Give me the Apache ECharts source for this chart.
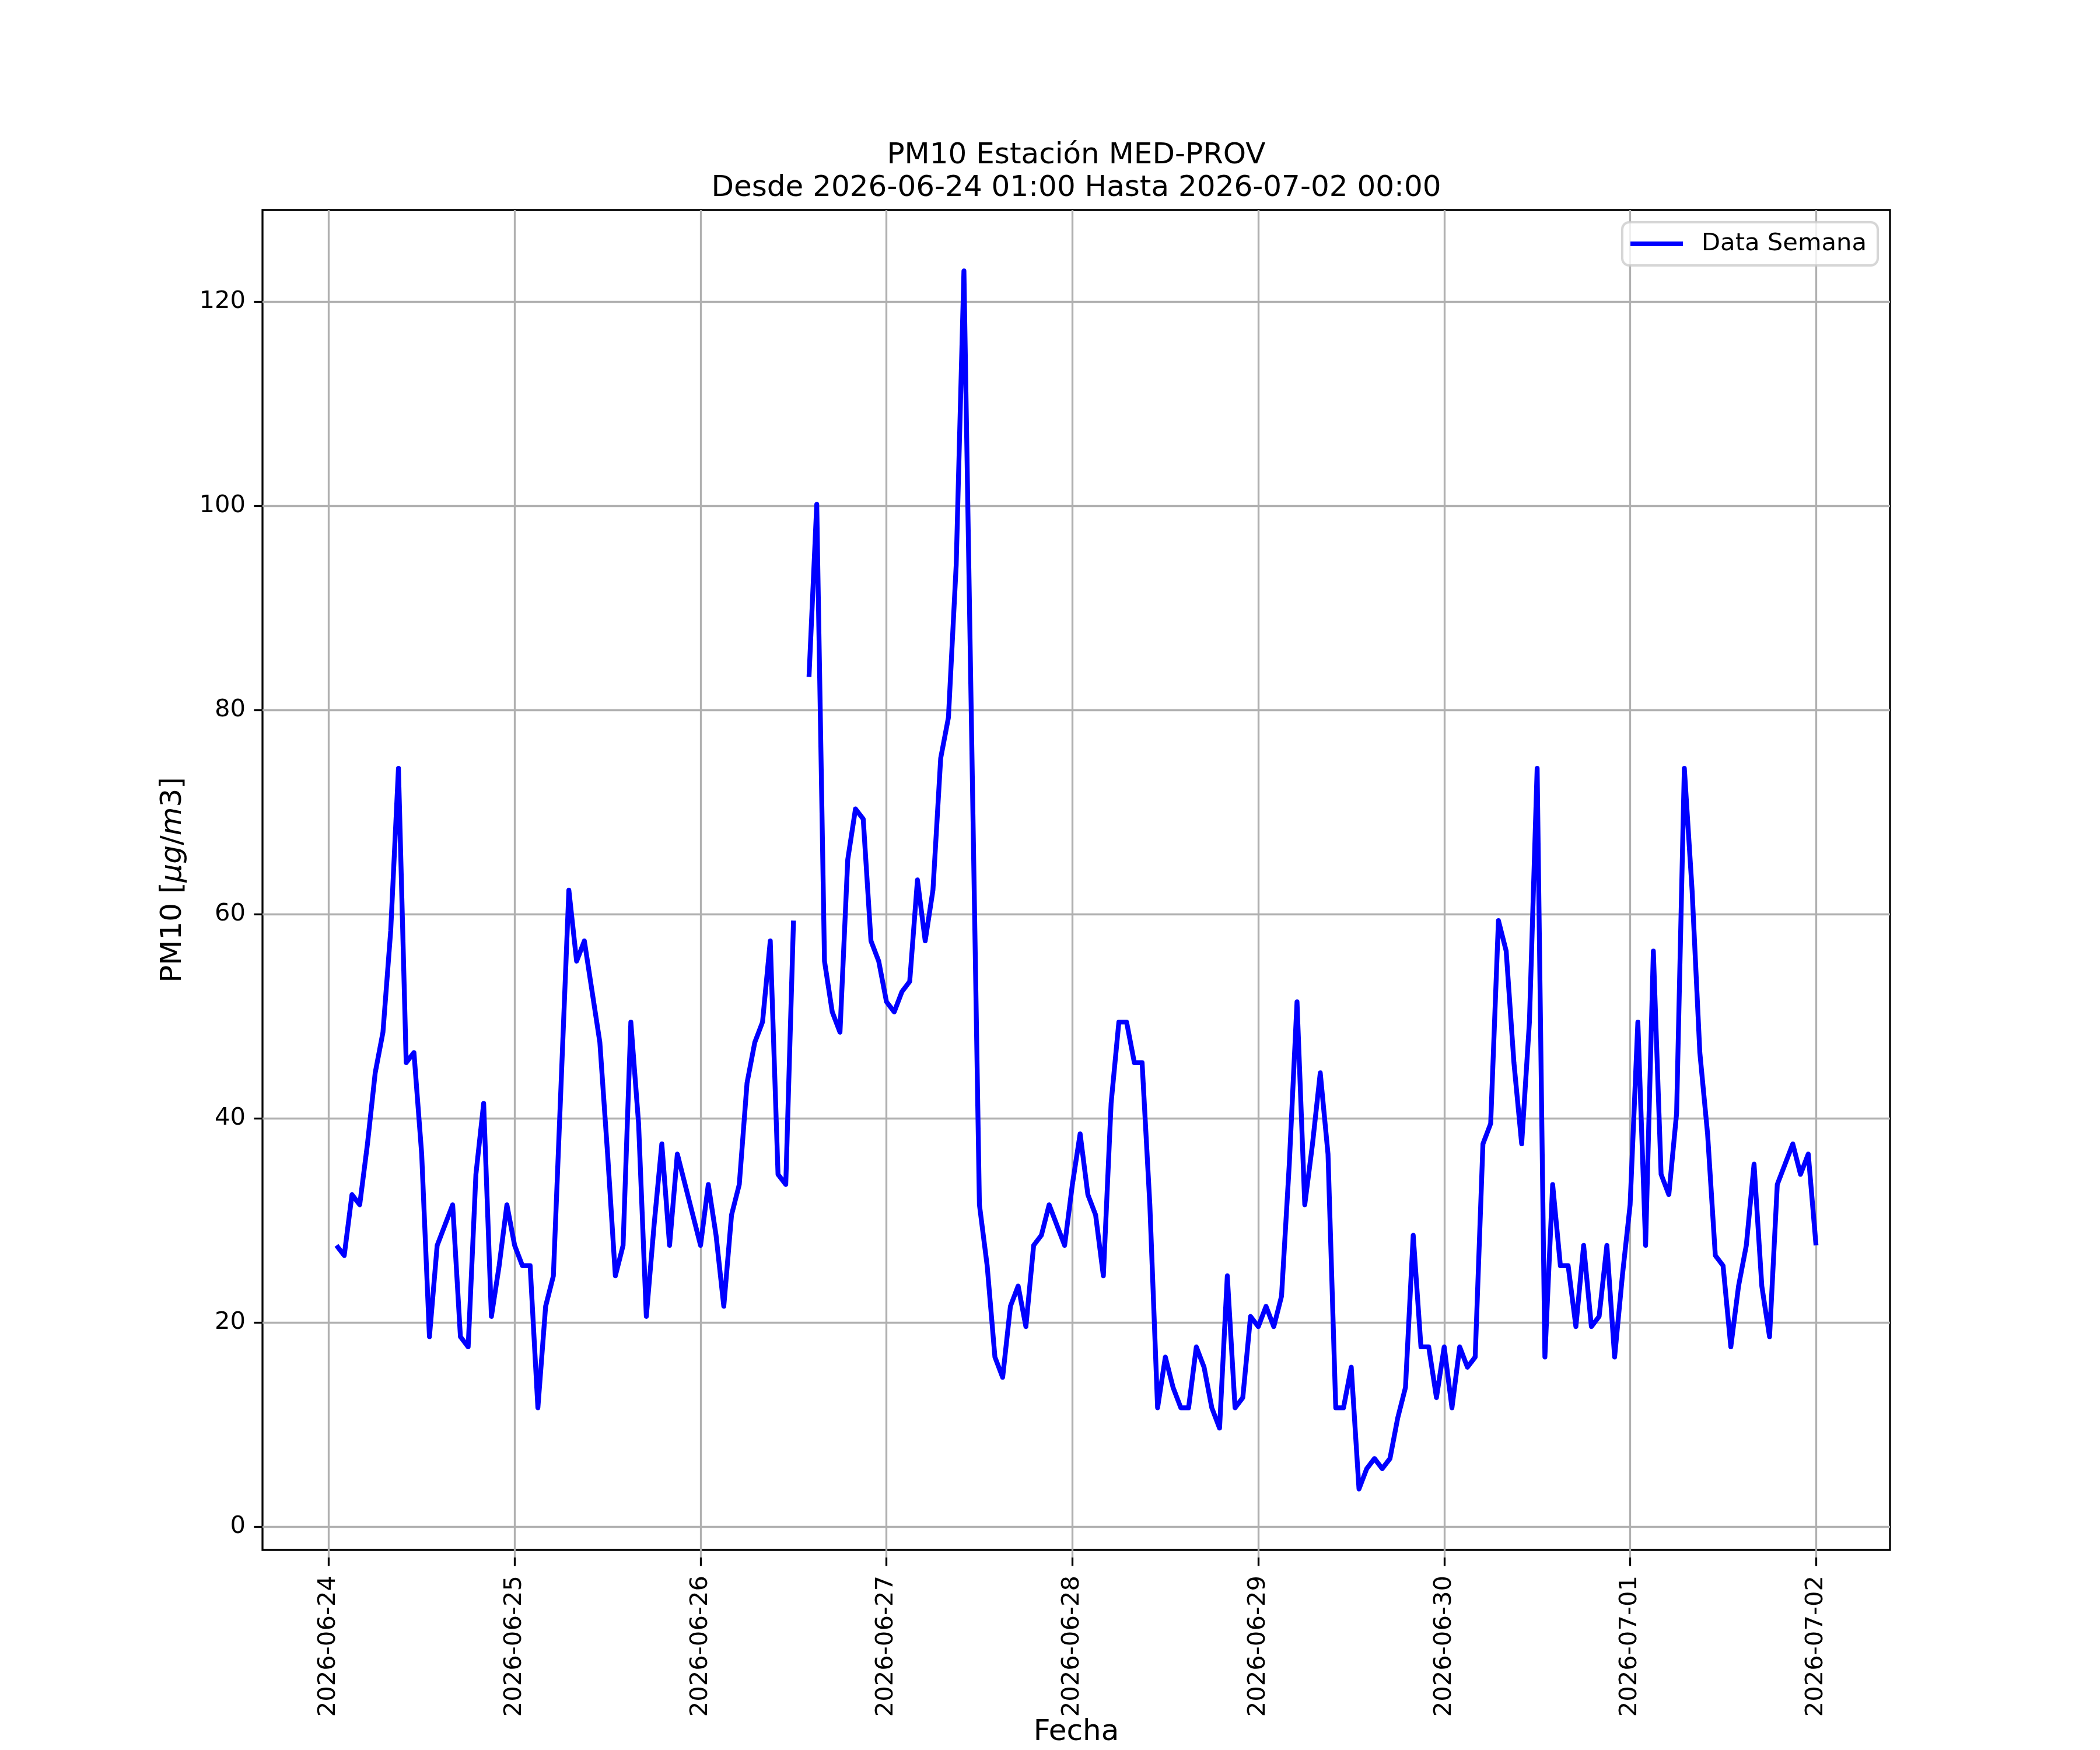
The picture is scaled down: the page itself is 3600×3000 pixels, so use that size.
<!DOCTYPE html>
<html>
<head>
<meta charset="utf-8">
<title>PM10 Estación MED-PROV</title>
<script src="https://cdn.jsdelivr.net/npm/echarts@6/dist/echarts.min.js"></script>
<style>
  html, body { margin: 0; padding: 0; background: #fff; }
  #main { width: 3600px; height: 3000px; }
</style>
</head>
<body>
<div id="main"></div>
<script>
// PM10 horario, desde 2026-06-24 01:00 (una hora por valor)
var pm10 = [
  27, 26, 32, 31, 37, 44, 48, 58, 74, 45, 46, 36, 18, 27, 29, 31, 18, 17, 34, 41, 20, 25, 31, 27,
  25, 25, 11, 21, 24, 43, 62, 55, 57, 52, 47, 36, 24, 27, 49, 39, 20, 29, 37, 27, 36, 33, 30, 27,
  33, 28, 21, 30, 33, 43, 47, 49, 57, 34, 33, 59, null, 83, 100, 55, 50, 48, 65, 70, 69, 57, 55, 51,
  50, 52, 53, 63, 57, 62, 75, 79, 94, 123, 77, 31, 25, 16, 14, 21, 23, 19, 27, 28, 31, 29, 27, 33,
  38, 32, 30, 24, 41, 49, 49, 45, 45, 31, 11, 16, 13, 11, 11, 17, 15, 11, 9, 24, 11, 12, 20, 19,
  21, 19, 22, 35, 51, 31, 37, 44, 36, 11, 11, 15, 3, 5, 6, 5, 6, 10, 13, 28, 17, 17, 12, 17,
  11, 17, 15, 16, 37, 39, 59, 56, 45, 37, 49, 74, 16, 33, 25, 25, 19, 27, 19, 20, 27, 16, 24, 31,
  49, 27, 56, 34, 32, 40, 74, 62, 46, 38, 26, 25, 17, 23, 27, 35, 23, 18, 33, 35, 37, 34, 36, 27
];
var dayLabels = ['2026-06-24', '2026-06-25', '2026-06-26', '2026-06-27', '2026-06-28',
                 '2026-06-29', '2026-06-30', '2026-07-01', '2026-07-02'];
var yTicks = [0, 20, 40, 60, 80, 100, 120];

var HOUR = 3600000;
var startTs = Date.UTC(2026, 5, 24, 1);
var endTs = startTs + (pm10.length - 1) * HOUR;
var margin = (endTs - startTs) * 0.05;   // margen automatico de matplotlib

var seriesData = pm10.map(function (v, i) { return [startTs + i * HOUR, v]; });

// geometria de la figura (3600x3000)
var W = 3600, H = 3000;
var axL = 450, axR = 3240, axT = 360, axB = 2670;
var yMin = -3, yMax = 129;
var pxPerY = (axB - axT) / (yMax - yMin);
var pxPerMs = (axR - axL) / ((endTs + margin) - (startTs - margin));
var day0 = Date.UTC(2026, 5, 24), day8 = Date.UTC(2026, 6, 2);
var dayLeft = axL + (day0 - (startTs - margin)) * pxPerMs;
var dayRight = axL + (day8 - (startTs - margin)) * pxPerMs;

var font = 'DejaVu Sans';
var fs = 41.7;
var gridCol = '#b0b0b0';

var chart = echarts.init(document.getElementById('main'), null, { renderer: 'canvas' });

var option = {
  backgroundColor: '#ffffff',
  animation: false,
  title: {
    text: 'PM10 Estación MED-PROV\nDesde 2026-06-24 01:00 Hasta 2026-07-02 00:00',
    left: (axL + axR) / 2,
    top: 239,
    padding: 0,
    textAlign: 'center',
    textStyle: { fontFamily: font, fontSize: 50, fontWeight: 'normal', color: '#000', lineHeight: 56 }
  },
  legend: {
    data: ['Data Semana'],
    right: W - 3219,
    top: 381,
    padding: [16, 19, 16, 14],
    icon: 'rect',
    itemWidth: 90,
    itemHeight: 8,
    backgroundColor: 'rgba(255,255,255,0.8)',
    borderColor: 'rgba(204,204,204,0.8)',
    borderWidth: 4,
    borderRadius: 12,
    textStyle: { fontFamily: font, fontSize: fs, color: '#000', padding: [0, 0, 0, 27] }
  },
  grid: [
    // datos + marco
    { left: axL, right: W - axR, top: axT, bottom: H - axB, show: true,
      borderColor: '#000', borderWidth: 3.3, backgroundColor: 'transparent' },
    // eje y: ticks de 0 a 120
    { left: axL, right: W - axR, top: axB - (120 - yMin) * pxPerY, bottom: H - (axB + yMin * pxPerY) },
    // eje x: ticks diarios
    { left: dayLeft, right: W - dayRight, top: axT, bottom: H - axB }
  ],
  xAxis: [
    { gridIndex: 0, type: 'time', min: startTs - margin, max: endTs + margin,
      axisLine: { show: false }, axisTick: { show: false }, axisLabel: { show: false },
      splitLine: { show: false },
      name: 'Fecha', nameLocation: 'middle', nameGap: 288,
      nameTextStyle: { fontFamily: font, fontSize: 50, color: '#000' } },
    { gridIndex: 1, type: 'value', min: 0, max: 1, show: false },
    { gridIndex: 2, type: 'value', min: 0, max: dayLabels.length - 1, interval: 1,
      axisLine: { show: false },
      axisTick: { show: true, inside: false, length: 14.6, lineStyle: { color: '#000', width: 3.3 } },
      axisLabel: { show: true, rotate: 90, margin: 31, fontFamily: font, fontSize: fs, color: '#000',
        showMinLabel: true, showMaxLabel: true,
        formatter: function (v) { return dayLabels[Math.round(v)]; } },
      splitLine: { show: true, lineStyle: { color: gridCol, width: 3.3 } } }
  ],
  yAxis: [
    { gridIndex: 0, type: 'value', min: yMin, max: yMax,
      axisLine: { show: false }, axisTick: { show: false }, axisLabel: { show: false },
      splitLine: { show: false },
      name: '{n|PM10 [}{i|μg}{n|/}{i|m}{n|3]}', nameLocation: 'middle', nameGap: 128, nameRotate: 90,
      nameTextStyle: {
        rich: {
          n: { fontFamily: font, fontSize: 50, color: '#000' },
          i: { fontFamily: font, fontSize: 50, color: '#000', fontStyle: 'italic' }
        }
      } },
    { gridIndex: 1, type: 'value', min: yTicks[0], max: yTicks[yTicks.length - 1], interval: 20,
      axisLine: { show: false },
      axisTick: { show: true, inside: false, length: 14.6, lineStyle: { color: '#000', width: 3.3 } },
      axisLabel: { show: true, margin: 29, fontFamily: font, fontSize: fs, color: '#000',
        showMinLabel: true, showMaxLabel: true },
      splitLine: { show: true, lineStyle: { color: gridCol, width: 3.3 } } },
    { gridIndex: 2, type: 'value', min: 0, max: 1, show: false }
  ],
  series: [
    {
      name: 'Data Semana',
      type: 'line',
      xAxisIndex: 0,
      yAxisIndex: 0,
      data: seriesData,
      showSymbol: false,
      symbol: 'none',
      connectNulls: false,
      color: '#0000ff',
      lineStyle: { color: '#0000ff', width: 8.3, join: 'round' },
      z: 5
    }
  ]
};

chart.setOption(option);
</script>
</body>
</html>
